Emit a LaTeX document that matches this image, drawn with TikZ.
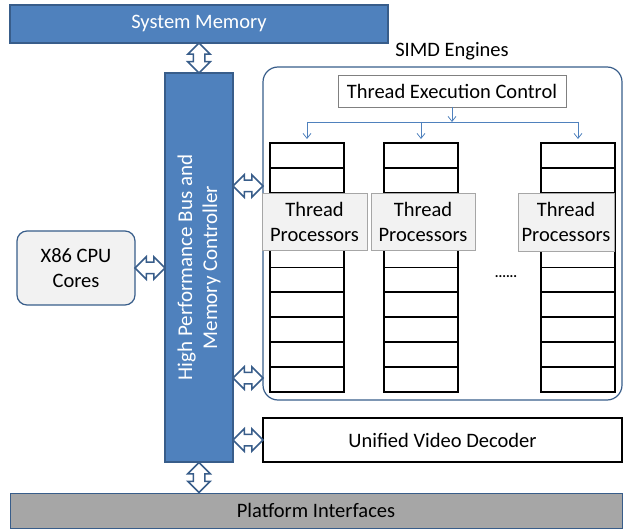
\documentclass[tikz,border=0pt]{standalone}
\usepackage{fontspec}
\setmainfont{Carlito}
\usetikzlibrary{shapes.arrows,arrows.meta,calc}
\definecolor{bfill}{HTML}{4F81BD}
\definecolor{bline}{HTML}{385D8A}
\definecolor{lgray}{HTML}{F2F2F2}
\definecolor{mgray}{HTML}{A6A6A6}
\begin{document}
\begin{tikzpicture}[x=1pt,y=-1pt,
  box/.style={draw, anchor=north west, inner sep=0pt, outer sep=0pt, align=center},
  bluebox/.style={box, fill=bfill, draw=bline, line width=1.2pt, text=white},
  dblarr/.style={double arrow, draw=bline, fill=white, line width=1.5pt,
     minimum height=30pt, minimum width=21pt, inner sep=5pt, double arrow head extend=5.5pt, outer sep=0pt},
  col/.style={box, draw=black, line width=1.8pt, minimum width=74pt, minimum height=249pt},
  tpbox/.style={box, fill=lgray, draw=mgray, line width=0.8pt},
  dist/.style={draw=bfill, line width=0.8pt},
  distarr/.style={dist, -{Straight Barb[length=5pt,width=8pt]}},
  font=\fontsize{20.5}{25}\selectfont]
\useasboundingbox (0,0) rectangle (624,529);

\node[bluebox, minimum width=378pt, minimum height=38pt] (sysmem) at (10,5) {System Memory};
\node[bluebox, minimum width=68pt, minimum height=389pt] (bus) at (165,73) {};
\node[text=white, rotate=90, align=center, font=\fontsize{21}{25}\selectfont] at (bus.center) {High Performance Bus and\\Memory Controller};
\node[box, fill=mgray, draw=bline, line width=1pt, minimum width=612pt, minimum height=35pt] (plat) at (10,493) {Platform Interfaces};
\node[box, fill=lgray, draw=bline, line width=1.2pt, rounded corners=10pt, minimum width=118pt, minimum height=74pt] (cpu) at (17,231) {X86 CPU\\Cores};
\node[box, draw=bline, line width=1.2pt, rounded corners=15pt, minimum width=359pt, minimum height=333pt] (simd) at (263,67) {};
\node (simdlbl) at (452,51) {SIMD Engines};
\node[box, fill=white, draw=gray, line width=0.8pt, minimum width=228pt, minimum height=32pt] (tec) at (338,75) {Thread Execution Control};
\node[box, draw=black, line width=1.3pt, minimum width=359pt, minimum height=44pt] (uvd) at (263,418) {Unified Video Decoder};

% columns of registers
\foreach \i/\x in {1/270,2/384,3/541}{
  \node[col] (col\i) at (\x,143) {};
  \foreach \k in {1,...,9}{
    \draw[black, line width=1.8pt] ($(col\i.north west)!\k/10!(col\i.south west)$) -- ($(col\i.north east)!\k/10!(col\i.south east)$);
  }
}
\node[tpbox, minimum width=105pt, minimum height=57pt] (tp1) at (262,193) {Thread\\Processors};
\node[tpbox, minimum width=104pt, minimum height=57pt] (tp2) at (371,193) {Thread\\Processors};
\node[tpbox, minimum width=96pt, minimum height=58pt] (tp3) at (518,193) {Thread\\Processors};
\node[font=\fontsize{14}{16}\selectfont\bfseries] (dots) at (506,277) {......};

% distribution arrows
\coordinate (dj) at (tec.south |- 0,122);
\draw[distarr] (tec.south) -- (dj);
\draw[dist] (col1.north |- dj) -- (col3.north |- dj);
\foreach \i in {1,2,3}{
  \draw[distarr] (col\i.north |- dj) -- ($(col\i.north)+(0,-4)$);
}

% double arrows
\node[dblarr, rotate=90] (a1) at ($(sysmem.south -| bus.north)!0.5!(bus.north)$) {};
\node[dblarr, rotate=90] (a2) at ($(bus.south)!0.5!(plat.north -| bus.south)$) {};
\node[dblarr] (a3) at ($(cpu.east)!0.5!(bus.west |- cpu.east)$) {};
\node[dblarr] (a4) at ($(bus.east |- 0,186)!0.5!(simd.west |- 0,186)$) {};
\node[dblarr] (a5) at ($(bus.east |- 0,378)!0.5!(simd.west |- 0,378)$) {};
\node[dblarr] (a6) at ($(bus.east |- uvd.west)!0.5!(uvd.west)$) {};
\end{tikzpicture}
\end{document}
